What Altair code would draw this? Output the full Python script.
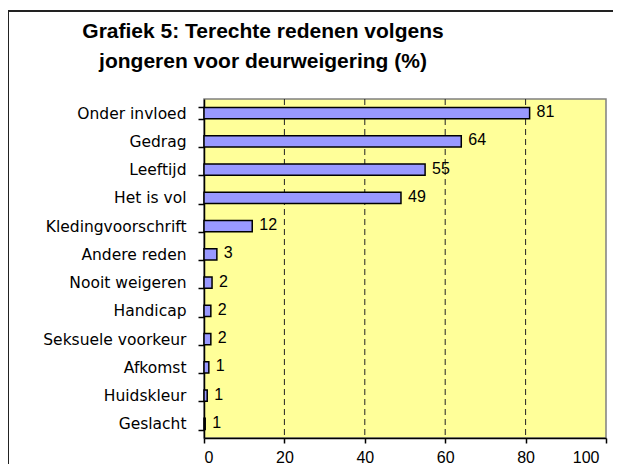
import altair as alt
import pandas as pd

categories = ["Onder invloed", "Gedrag", "Leeftijd", "Het is vol", "Kledingvoorschrift",
              "Andere reden", "Nooit weigeren", "Handicap", "Seksuele voorkeur",
              "Afkomst", "Huidskleur", "Geslacht"]
values = [81, 64, 55, 49, 12, 3.2, 2, 1.7, 1.7, 1.2, 0.8, 0.3]
labels = ["81", "64", "55", "49", "12", "3", "2", "2", "2", "1", "1", "1"]
x_ticks = [0, 20, 40, 60, 80, 100]
grid_values = [20, 40, 60, 80]
title_lines = ["Grafiek 5: Terechte redenen volgens", "jongeren voor deurweigering (%)"]

df = pd.DataFrame({"reden": categories, "pct": values, "label": labels})
grid_df = pd.DataFrame({"g": grid_values})
frame_df = pd.DataFrame({"f": [0]})

x_scale = alt.Scale(domain=[0, 100], nice=False)
y_scale = alt.Scale(domain=categories, paddingInner=0.6, paddingOuter=0.3)

x_axis = alt.Axis(values=x_ticks, grid=False, tickSize=5, tickColor="black",
                  domainColor="black", domainWidth=1.5, tickWidth=1.5,
                  labelFont="Liberation Sans", labelFontSize=16, labelColor="black",
                  labelPadding=6,
                  labelOffset={"condition": {"test": "datum.value == 100", "value": -7},
                               "value": 0})
y_axis = alt.Axis(tickBand="extent", tickSize=6, tickColor="black", tickWidth=1.5,
                  domainColor="black", domainWidth=1.5, grid=False,
                  labelFont="DejaVu Sans", labelFontSize=15.5, labelColor="black",
                  labelPadding=12, labelLimit=300)

base = alt.Chart(df)

grid = alt.Chart(grid_df).mark_rule(color="#222222", strokeDash=[6, 4], strokeWidth=1).encode(
    x=alt.X("g:Q", scale=x_scale, axis=x_axis, title=None)
)

bars = base.mark_bar(color="#9999FF", stroke="black", strokeWidth=1.5).encode(
    x=alt.X("pct:Q", scale=x_scale, axis=x_axis, title=None),
    y=alt.Y("reden:N", sort=categories, scale=y_scale, axis=y_axis, title=None),
)

text = base.mark_text(align="left", baseline="middle", dx=7, dy=-1,
                      font="Liberation Sans", fontSize=16, color="black").encode(
    x=alt.X("pct:Q", scale=x_scale),
    y=alt.Y("reden:N", sort=categories, scale=y_scale),
    text="label:N",
)

frame = alt.Chart(frame_df).mark_rect(fill=None, stroke="#222222", strokeWidth=2).encode(
    x=alt.value(-196), x2=alt.value(1000), y=alt.value(-88), y2=alt.value(1000)
)

chart = alt.layer(grid, bars, text, frame).properties(
    width=402,
    height=339,
    background="white",
    padding={"left": 196, "top": 91, "right": 7, "bottom": 26},
    autosize=alt.AutoSizeParams(type="none"),
    title=alt.TitleParams(
        text=title_lines, font="Liberation Sans", fontSize=21, fontWeight="bold",
        color="black", anchor="middle", frame="group", dx=-142, offset=-79,
        lineHeight=30, baseline="alphabetic",
    ),
).configure_view(
    fill="#FFFF99", stroke="#808080", strokeWidth=1.5
)

chart.save("out.html", embed_options={"renderer": "svg", "actions": False})
